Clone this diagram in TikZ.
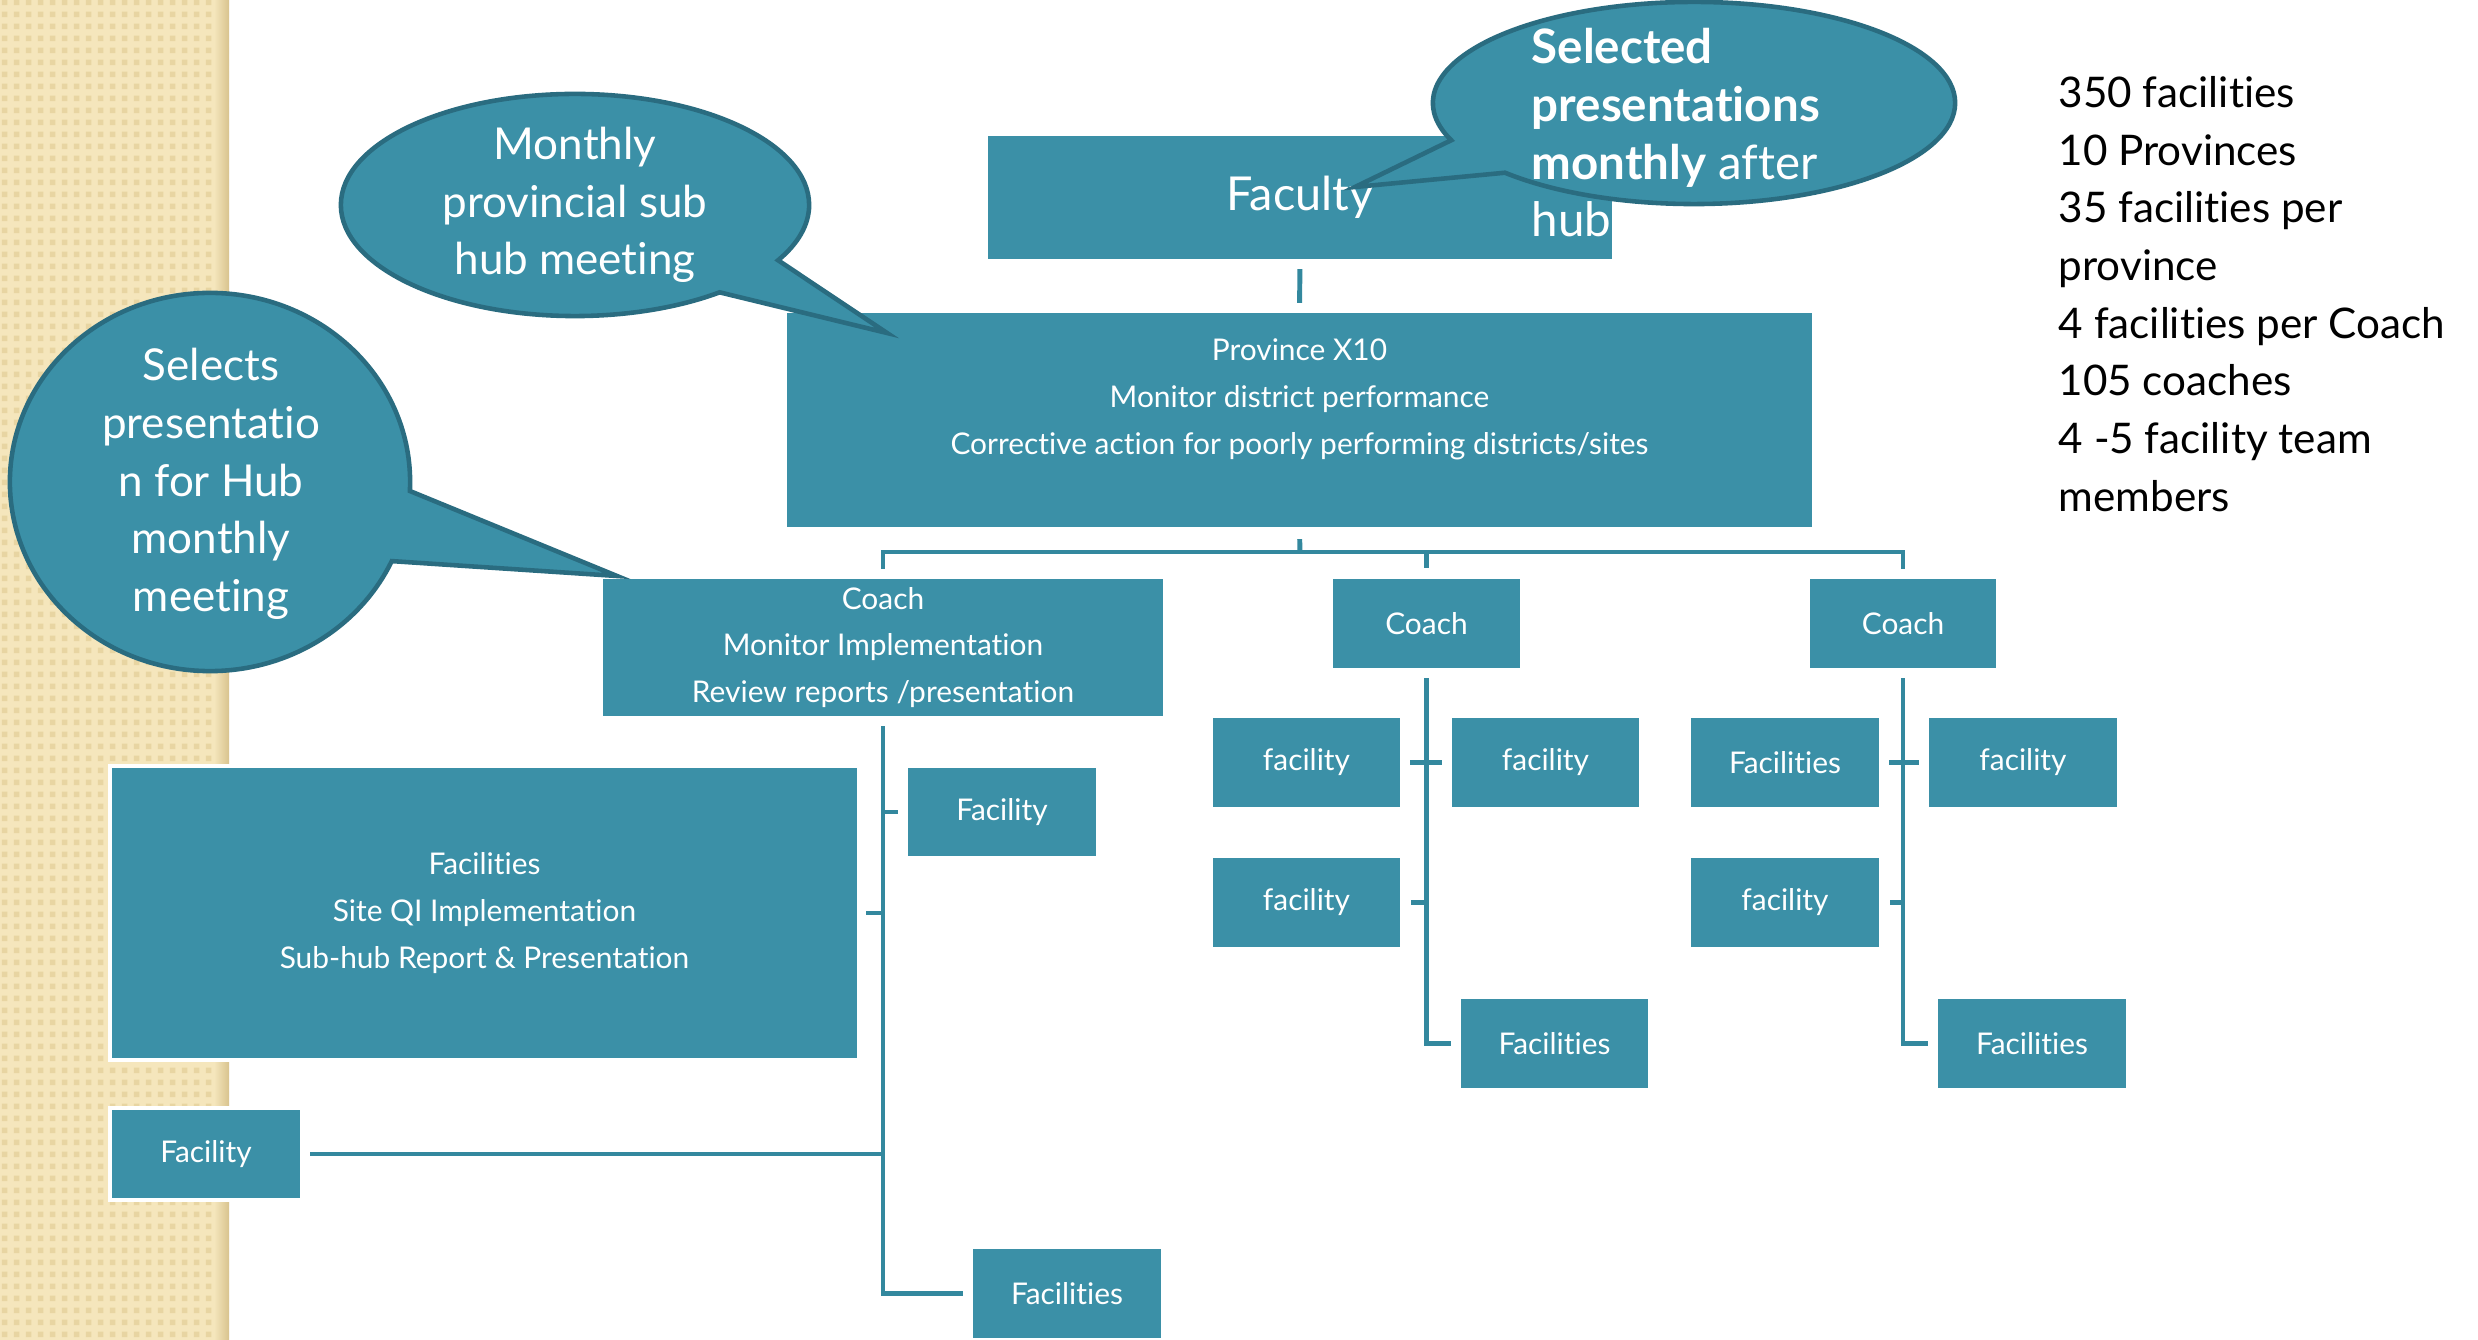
\documentclass[tikz,border=0pt]{standalone}
\usepackage{fontspec}
\setmainfont{Lato}[RawFeature={-liga;-clig;-calt;-dlig}]
\usetikzlibrary{shapes.callouts,patterns}
\definecolor{boxteal}{HTML}{3B90A7}
\definecolor{bubbleline}{HTML}{2A6C80}
\definecolor{wirec}{HTML}{33889E}
\definecolor{stripc}{HTML}{F5E6BC}
\definecolor{stripd}{HTML}{E8D5A2}
\definecolor{stripe}{HTML}{D8C38E}
\pgfdeclarepatternformonly{beigechecks}{\pgfqpoint{0cm}{0cm}}{\pgfqpoint{0.12cm}{0.12cm}}{\pgfqpoint{0.12cm}{0.12cm}}{%
  \pgfpathrectangle{\pgfqpoint{0.03cm}{0.03cm}}{\pgfqpoint{0.06cm}{0.06cm}}\pgfusepath{fill}}
\tikzset{
  box/.style={rectangle,fill=boxteal,draw=white,line width=1.2pt,text=white,align=center,
    inner sep=0pt,font=\fontsize{8.5}{13.3}\selectfont},
  bubble/.style={ellipse callout,fill=boxteal,draw=bubbleline,line width=1.3pt,
    callout pointer arc=22,inner sep=0pt},
  bubbletext/.style={text=white,align=center,inner sep=0pt,font=\fontsize{12.5}{16.4}\selectfont},
  wire/.style={draw=wirec,line width=1.4pt},
  gap/.style={shorten <=0.06cm,shorten >=0.06cm}
}
\begin{document}
\begin{tikzpicture}[x={(0.01cm,0)},y={(0,-0.01cm)},line join=miter]
	\useasboundingbox (0,0) rectangle (2478,1340);
	\fill[white] (0,0) rectangle (2478,1340);
	% beige strip on the left
	\fill[stripc] (0,0) rectangle (229,1340);
	\fill[pattern=beigechecks,pattern color=stripd] (0,0) rectangle (229,1340);
	\shade[left color=stripc,right color=stripe] (214,0) rectangle (229,1340);

	% top levels
	\node[box,minimum width=6.28cm,minimum height=1.27cm,font=\fontsize{13.3}{16}\selectfont] (fac) at (1300,197.5) {Faculty};
	\node[box,minimum width=10.29cm,minimum height=2.18cm] (prov) at (1299.5,420) {Province X10\\Monitor district performance\\Corrective action for poorly performing districts/sites\\\mbox{}};

	% coaches
	\node[box,minimum width=5.64cm,minimum height=1.41cm] (coachA) at (883,647.5) {Coach\\Monitor Implementation\\Review reports /presentation};
	\node[box,minimum width=1.91cm,minimum height=0.93cm] (coachB) at (1426.5,623.5) {Coach};
	\node[box,minimum width=1.90cm,minimum height=0.93cm] (coachC) at (1903,623.5) {Coach};

	% facilities of coach A
	\node[box,minimum width=1.92cm,minimum height=0.92cm] (facA1) at (1002,812) {Facility};
	\node[box,minimum width=7.49cm,minimum height=2.94cm] (big) at (484.5,913) {Facilities\\Site QI Implementation\\Sub-hub Report \& Presentation};
	\node[box,minimum width=1.92cm,minimum height=0.92cm] (facA3) at (206,1154) {Facility};
	\node[box,minimum width=1.92cm,minimum height=0.93cm] (facA4) at (1067,1293.5) {Facilities};

	% facilities of coach B
	\node[box,minimum width=1.91cm,minimum height=0.93cm] (fB1) at (1306.5,762.5) {facility};
	\node[box,minimum width=1.91cm,minimum height=0.93cm] (fB2) at (1545.5,762.5) {facility};
	\node[box,minimum width=1.91cm,minimum height=0.93cm] (fB3) at (1306.5,902.5) {facility};
	\node[box,minimum width=1.91cm,minimum height=0.93cm] (fB4) at (1554.5,1043.5) {Facilities};

	% facilities of coach C
	\node[box,minimum width=1.92cm,minimum height=0.93cm] (fC1) at (1785,762.5) {Facilities};
	\node[box,minimum width=1.92cm,minimum height=0.93cm] (fC2) at (2023,762.5) {facility};
	\node[box,minimum width=1.92cm,minimum height=0.93cm] (fC3) at (1785,902.5) {facility};
	\node[box,minimum width=1.92cm,minimum height=0.93cm] (fC4) at (2032,1043.5) {Facilities};

	% connectors
	\coordinate (bus) at (1300,552);
	\draw[wire,gap] (fac.south) -- (prov.north);
	\draw[wire,shorten <=0.08cm] (prov.south) -- (bus);
	\draw[wire,gap] (coachA.north) -- (coachA.north |- bus) -- (coachC.north |- bus) -- (coachC.north);
	\draw[wire,shorten >=0.07cm] (coachB.north |- bus) -- (coachB.north);

	\draw[wire,gap] (coachA.south) |- (facA4.west);
	\draw[wire,shorten <=0.06cm] (facA1.west) -- (facA1.west -| coachA.south);
	\draw[wire,shorten <=0.05cm] (big.east) -- (big.east -| coachA.south);
	\draw[wire,shorten <=0.06cm] (facA3.east) -- (facA3.east -| coachA.south);

	\draw[wire,gap] (coachB.south) |- (fB4.west);
	\draw[wire,gap] (fB1.east) -- (fB2.west);
	\draw[wire,shorten <=0.07cm] (fB3.east) -- (fB3.east -| coachB.south);

	\draw[wire,gap] (coachC.south) |- (fC4.west);
	\draw[wire,gap] (fC1.east) -- (fC2.west);
	\draw[wire,shorten <=0.07cm] (fC3.east) -- (fC3.east -| coachC.south);

	% callouts
	\coordinate (montip) at (887,333);
	\coordinate (seltip) at (617,576);
	\coordinate (hubtip) at (1355,187);
	\node[bubble,minimum width=4.68cm,minimum height=2.22cm,callout absolute pointer={(montip)}] (monc) at (575,205) {};
	\node[bubbletext] (mont) at (monc.center) {Monthly\\provincial sub\\hub meeting};
	\node[bubble,minimum width=4.0cm,minimum height=3.78cm,callout absolute pointer={(seltip)}] (selc) at (210,482) {};
	\node[bubbletext] (selt) at (211,484) {Selects\\presentatio\\n for Hub\\monthly\\meeting};
	\node[bubble,minimum width=5.22cm,minimum height=2.02cm,callout absolute pointer={(hubtip)}] (hubc) at (1694,103) {};
	\node[bubbletext,anchor=west,align=left,font=\fontsize{13.5}{16.4}\selectfont] (hubt) at (1531,133) {\textbf{Selected}\\\textbf{presentations}\\\textbf{monthly} after\\hub};

	% numbers
	\node[anchor=west,align=left,inner sep=0pt,font=\fontsize{12}{16.4}\selectfont] (stats) at (2058,294) {350 facilities\\10 Provinces\\35 facilities per\\province\\4 facilities per Coach\\105 coaches\\4 -5 facility team\\members};
\end{tikzpicture}
\end{document}
